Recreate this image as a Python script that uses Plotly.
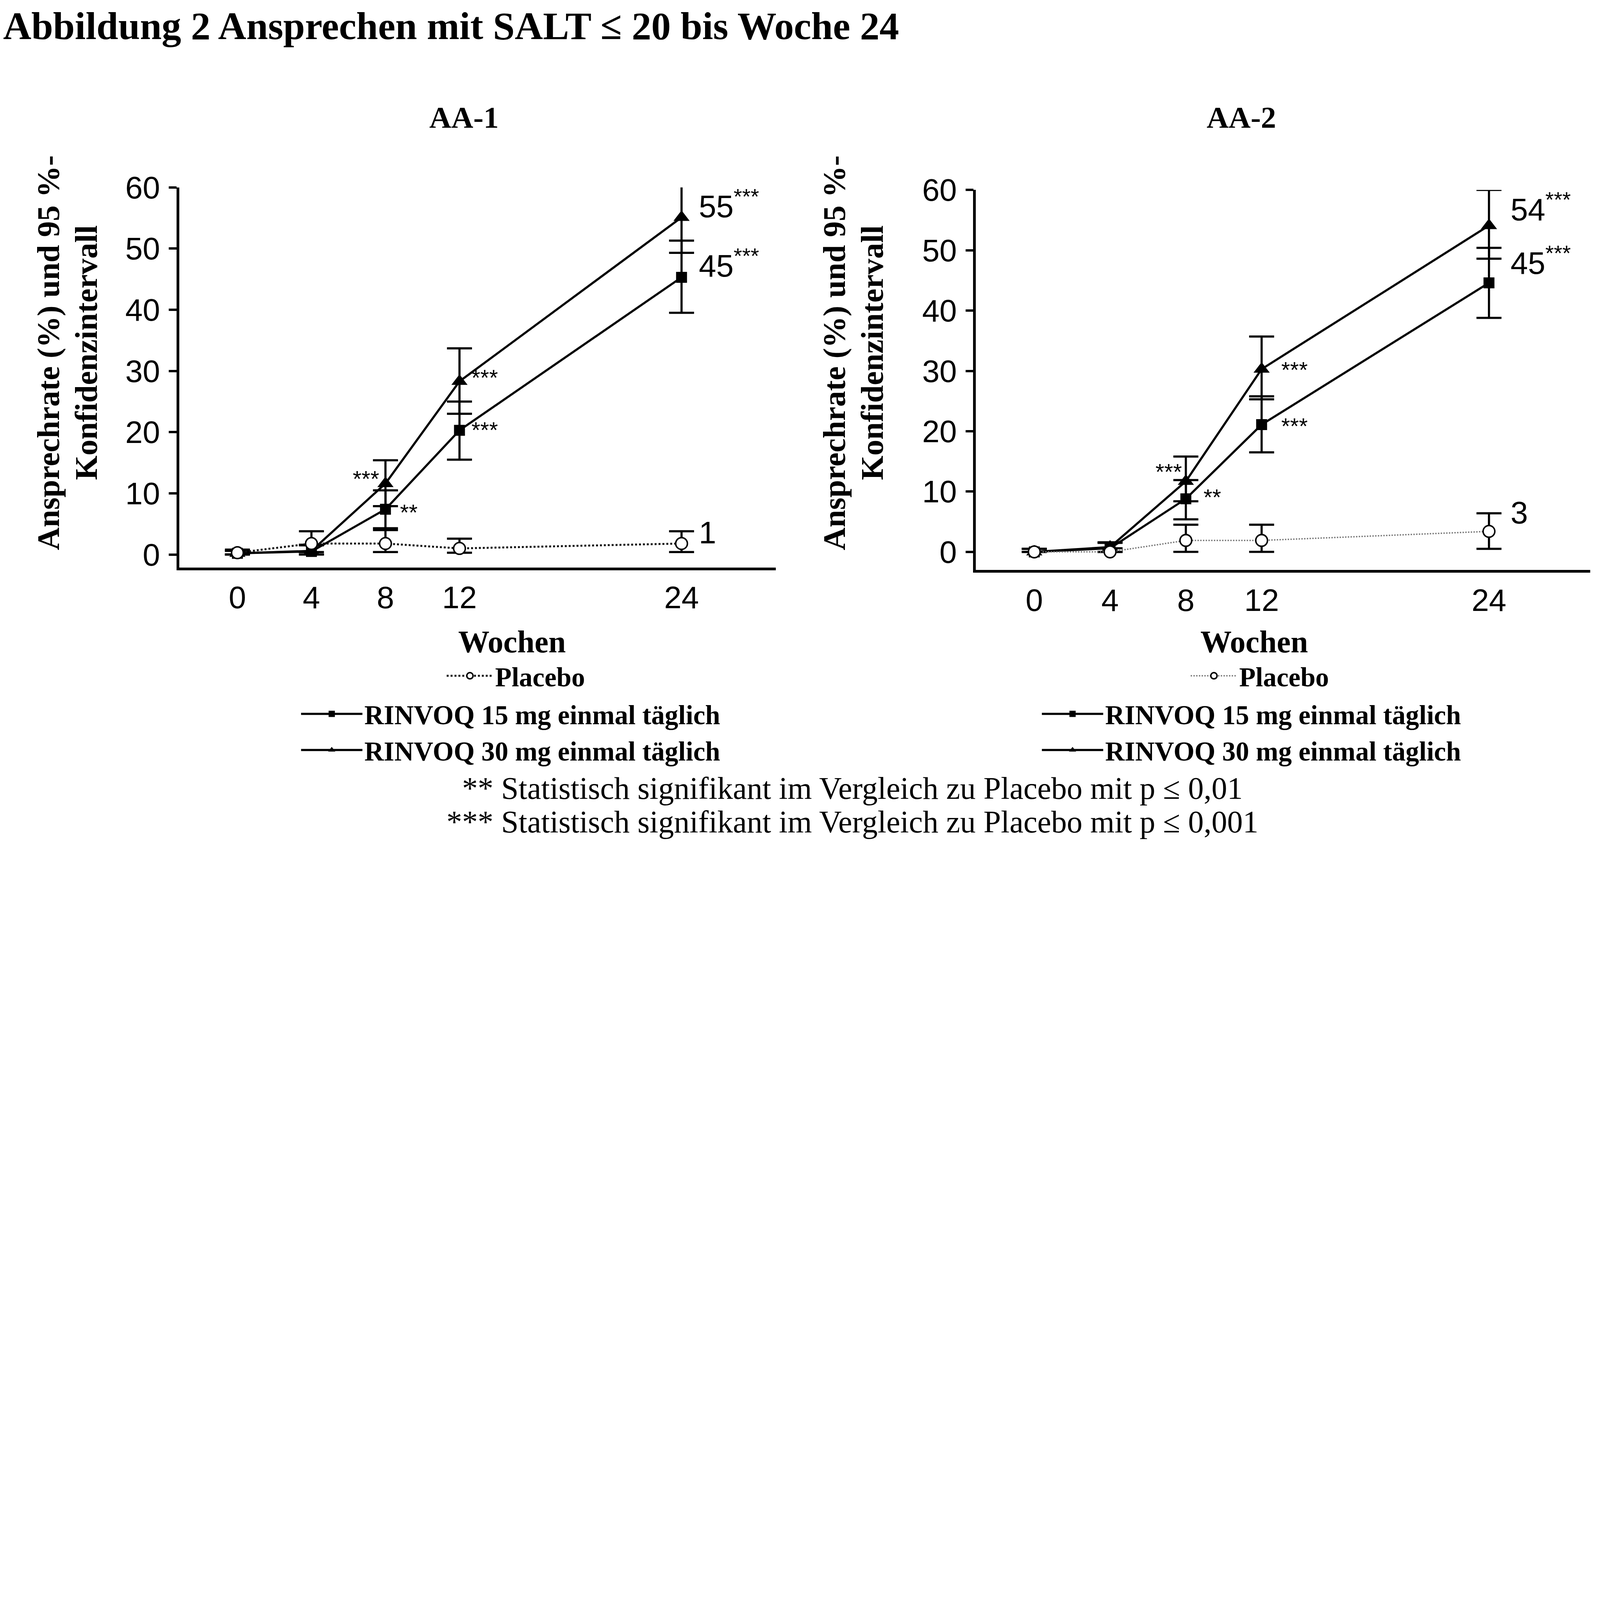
import plotly.graph_objects as go

# ===========================================
# Daten (abgelesen aus Abbildung 2)
# ===========================================
wochen = [0, 4, 8, 12, 24]

# AA-1
pbo_aa1 = [0.3, 1.8, 1.8, 1.0, 1.8]
pbo_aa1_lo = [0.0, 0.4, 0.4, 0.3, 0.4]
pbo_aa1_hi = [0.8, 3.8, 4.0, 2.6, 3.8]
u15_aa1 = [0.2, 0.5, 7.4, 20.3, 45.3]
u15_aa1_lo = [0.0, 0.0, 4.3, 15.5, 39.5]
u15_aa1_hi = [0.6, 1.5, 10.5, 25.0, 51.3]
u30_aa1 = [0.2, 0.6, 11.6, 28.3, 55.1]
u30_aa1_lo = [0.0, 0.0, 7.9, 23.0, 49.3]
u30_aa1_hi = [0.6, 1.6, 15.4, 33.7, 61.2]

# AA-2
pbo_aa2 = [0.0, 0.0, 1.9, 1.9, 3.4]
pbo_aa2_lo = [0.0, 0.0, 0.0, 0.0, 0.5]
pbo_aa2_hi = [0.5, 0.6, 4.5, 4.5, 6.4]
u15_aa2 = [0.0, 0.6, 8.8, 21.1, 44.6]
u15_aa2_lo = [0.0, 0.0, 5.4, 16.5, 38.8]
u15_aa2_hi = [0.5, 1.5, 11.9, 25.8, 50.4]
u30_aa2 = [0.0, 0.8, 11.7, 30.3, 54.1]
u30_aa2_lo = [0.0, 0.0, 8.4, 25.3, 48.6]
u30_aa2_hi = [0.5, 1.6, 15.8, 35.7, 60.0]

y_ticks = [0, 10, 20, 30, 40, 50, 60]

namen = ["Placebo", "RINVOQ 15 mg einmal täglich", "RINVOQ 30 mg einmal täglich"]

SERIF = "Liberation Serif, Times New Roman, serif"
SANS = "Liberation Sans Narrow, Arial Narrow, Liberation Sans, Arial, sans-serif"


def err(val, lo, hi):
    return dict(type="data", symmetric=False,
                array=[h - v for v, h in zip(val, hi)],
                arrayminus=[v - l for v, l in zip(val, lo)],
                color="black", thickness=5.5, width=32)


fig = go.Figure()

panels = [
    ("x", "y", pbo_aa1, pbo_aa1_lo, pbo_aa1_hi, u15_aa1, u15_aa1_lo, u15_aa1_hi,
     u30_aa1, u30_aa1_lo, u30_aa1_hi, "#111111", 5, "legend", "legend2"),
    ("x2", "y2", pbo_aa2, pbo_aa2_lo, pbo_aa2_hi, u15_aa2, u15_aa2_lo, u15_aa2_hi,
     u30_aa2, u30_aa2_lo, u30_aa2_hi, "#777777", 3.5, "legend3", "legend4"),
]

for (xa, ya, pbo, pbo_lo, pbo_hi, u15, u15_lo, u15_hi, u30, u30_lo, u30_hi,
     pbo_col, pbo_w, leg_p, leg_r) in panels:
    fig.add_trace(go.Scatter(
        x=wochen, y=u15, xaxis=xa, yaxis=ya, name=namen[1], legend=leg_r,
        mode="lines+markers", cliponaxis=False,
        line=dict(color="black", width=5.5),
        marker=dict(symbol="square", size=28, color="black"),
        error_y=err(u15, u15_lo, u15_hi),
    ))
    fig.add_trace(go.Scatter(
        x=wochen, y=u30, xaxis=xa, yaxis=ya, name=namen[2], legend=leg_r,
        mode="lines+markers", cliponaxis=False,
        line=dict(color="black", width=5.5),
        marker=dict(symbol="triangle-up", size=36, color="black"),
        error_y=err(u30, u30_lo, u30_hi),
    ))
    fig.add_trace(go.Scatter(
        x=wochen, y=pbo, xaxis=xa, yaxis=ya, name=namen[0], legend=leg_p,
        mode="lines+markers", cliponaxis=False,
        line=dict(color=pbo_col, width=pbo_w, dash="dot"),
        marker=dict(symbol="circle", size=30, color="white",
                    line=dict(color="black", width=3.8)),
        error_y=err(pbo, pbo_lo, pbo_hi),
    ))

axis_common = dict(showline=True, linecolor="black", linewidth=6.5,
                   showgrid=False, zeroline=False,
                   tickfont=dict(family=SANS, size=80, color="black"))

# Browserfenster ist auf 4096 px Breite begrenzt -> Seitenverhaeltnis des Originals
fig.update_layout(
    width=4096, height=2271,
    paper_bgcolor="white", plot_bgcolor="white",
    margin=dict(l=0, r=0, t=0, b=0),
    xaxis=dict(domain=[0.110, 0.483], range=[-3.15, 29.1], tickvals=wochen,
               ticks="", ticklabelstandoff=2, anchor="y", **axis_common),
    yaxis=dict(domain=[0.368, 0.807], range=[-2.1, 60], tickvals=y_ticks,
               ticks="outside", ticklen=20, tickwidth=5.5, tickcolor="black",
               ticklabelstandoff=6, anchor="x", **axis_common),
    xaxis2=dict(domain=[0.608, 0.992], range=[-3.08, 29.35], tickvals=wochen,
                ticks="", ticklabelstandoff=2, anchor="y2", **axis_common),
    yaxis2=dict(domain=[0.365, 0.804], range=[-3.0, 60], tickvals=y_ticks,
                ticks="outside", ticklen=20, tickwidth=5.5, tickcolor="black",
                ticklabelstandoff=6, anchor="x2", **axis_common),
    title=dict(text="Abbildung 2 Ansprechen mit SALT ≤ 20 bis Woche 24",
               x=0.0, xanchor="left", xref="paper", y=0.975, yanchor="middle",
               font=dict(family=SERIF, size=100, color="black", weight="bold")),
    showlegend=True,
)

leg_font = dict(family=SERIF, size=69, color="black", weight="bold")
fig.update_layout(
    legend=dict(x=0.276, y=0.266, xanchor="left", yanchor="top", font=leg_font,
                itemwidth=119, bgcolor="rgba(0,0,0,0)"),
    legend2=dict(x=0.185, y=0.222, xanchor="left", yanchor="top", font=leg_font,
                 itemwidth=157, bgcolor="rgba(0,0,0,0)", tracegroupgap=0),
    legend3=dict(x=0.741, y=0.266, xanchor="left", yanchor="top", font=leg_font,
                 itemwidth=119, bgcolor="rgba(0,0,0,0)"),
    legend4=dict(x=0.648, y=0.222, xanchor="left", yanchor="top", font=leg_font,
                 itemwidth=157, bgcolor="rgba(0,0,0,0)", tracegroupgap=0),
)

# Achsentitel, Untertitel, Fussnoten
bold_serif = lambda s: dict(family=SERIF, size=s, color="black", weight="bold")
ytitel = ["Ansprechrate (%) und 95 %-", "Konfidenzintervall"]
for xp1, xp2, sub, subx, wx in [(0.0282, 0.0520, "AA-1", 0.288, 0.318),
                                (0.5195, 0.5433, "AA-2", 0.774, 0.782)]:
    for txt, xp in zip(ytitel, [xp1, xp2]):
        fig.add_annotation(text=txt, x=xp, y=0.616, xref="paper", yref="paper",
                           xanchor="center", yanchor="middle",
                           textangle=-90, showarrow=False, font=bold_serif(81))
    fig.add_annotation(text=sub, x=subx, y=0.888, xref="paper", yref="paper",
                       xanchor="center", yanchor="middle",
                       showarrow=False, font=bold_serif(78))
    fig.add_annotation(text="Wochen", x=wx, y=0.282, xref="paper", yref="paper",
                       xanchor="center", yanchor="middle",
                       showarrow=False, font=bold_serif(80))

fussnoten = ["** Statistisch signifikant im Vergleich zu Placebo mit p ≤ 0,01",
             "*** Statistisch signifikant im Vergleich zu Placebo mit p ≤ 0,001"]
for txt, yp in zip(fussnoten, [0.113, 0.074]):
    fig.add_annotation(text=txt, x=0.531, y=yp, xref="paper", yref="paper",
                       xanchor="center", yanchor="middle", showarrow=False,
                       font=dict(family=SERIF, size=80, color="black"))

# Signifikanz-Beschriftungen
star = "<sup>***</sup>"
labels = [
    ("x", "y", "55" + star, 24.9, 57.3, "left", 80),
    ("x", "y", "45" + star, 24.9, 47.6, "left", 80),
    ("x", "y", "1", 24.9, 3.6, "left", 80),
    ("x", "y", "***", 12.6, 28.9, "left", 58),
    ("x", "y", "***", 12.6, 20.4, "left", 58),
    ("x", "y", "***", 7.7, 12.4, "right", 58),
    ("x", "y", "**", 8.75, 6.9, "left", 58),
    ("x2", "y2", "54" + star, 25.1, 57.2, "left", 80),
    ("x2", "y2", "45" + star, 25.1, 48.3, "left", 80),
    ("x2", "y2", "3", 25.1, 6.5, "left", 80),
    ("x2", "y2", "***", 13.0, 30.2, "left", 58),
    ("x2", "y2", "***", 13.0, 20.9, "left", 58),
    ("x2", "y2", "***", 7.85, 13.3, "right", 58),
    ("x2", "y2", "**", 8.9, 9.1, "left", 58),
]
for xr, yr, txt, xv, yv, anc, fs in labels:
    fig.add_annotation(text=txt, x=xv, y=yv, xref=xr, yref=yr, xanchor=anc,
                       yanchor="middle", showarrow=False,
                       font=dict(family=SANS, size=fs, color="black"))

fig.write_html("out.html")
